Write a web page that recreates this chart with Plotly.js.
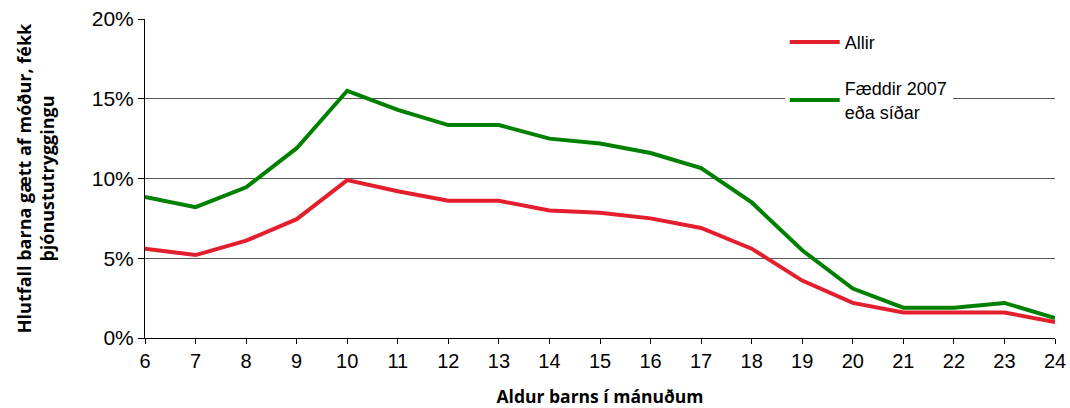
<!DOCTYPE html>
<html>
<head>
<meta charset="utf-8">
<script src="https://cdn.plot.ly/plotly-3.0.1.min.js"></script>
<style>html,body{margin:0;padding:0;background:#fff;}#chart{width:1070px;height:408px;}</style>
</head>
<body>
<div id="chart"></div>
<script>
var months = [6,7,8,9,10,11,12,13,14,15,16,17,18,19,20,21,22,23,24];
var allir = [5.6,5.2,6.1,7.45,9.9,9.2,8.6,8.6,8.0,7.85,7.5,6.9,5.6,3.6,2.2,1.6,1.6,1.6,1.0];
var faeddir = [8.85,8.2,9.45,11.9,15.5,14.3,13.35,13.35,12.5,12.2,11.6,10.65,8.5,5.5,3.1,1.9,1.9,2.2,1.25];
var seriesNames = ['Allir', 'Fæddir 2007<br>eða síðar'];
var yTickVals = [0,5,10,15,20];
var yTickText = ['0%','5%','10%','15%','20%'];

var traces = [
  {x: months, y: allir, name: seriesNames[0], type: 'scatter', mode: 'lines',
   line: {color: '#E31E2D', width: 4}, legendgroup: 'a'},
  {x: months, y: faeddir, name: seriesNames[1], type: 'scatter', mode: 'lines',
   line: {color: '#008000', width: 4}, legendgroup: 'b'}
];

var layout = {
  width: 1070, height: 408,
  margin: {l: 145, r: 15, t: 19, b: 70},
  paper_bgcolor: '#fff', plot_bgcolor: '#fff',
  font: {family: '"Liberation Sans", Arial, sans-serif', size: 18, color: '#000'},
  xaxis: {
    range: [6, 24], tickvals: months, ticks: 'outside', ticklen: 5, tickcolor: '#000',
    showline: true, linecolor: '#000', linewidth: 1, showgrid: false, zeroline: false,
    tickfont: {family: '"Liberation Sans", Arial', size: 20},
    title: {text: 'Aldur barns í mánuðum', font: {family: '"Open Sans", sans-serif', size: 17.5, weight: 'bold'}, standoff: 20}
  },
  yaxis: {
    range: [0, 20], tickvals: yTickVals, ticktext: yTickText, ticks: 'outside', ticklen: 6, tickcolor: '#000',
    showline: true, linecolor: '#000', linewidth: 1, showgrid: true, gridcolor: '#555', gridwidth: 1,
    zeroline: false, tickfont: {size: 21},
    title: {text: 'Hlutfall barna gætt af móður, fékk<br>þjónustutryggingu', font: {family: '"Open Sans", sans-serif', size: 18, weight: 'bold'}, standoff: 32}
  },
  legend: {
    x: 0.703, xanchor: 'left', y: 0.985, yanchor: 'top',
    bgcolor: '#fff', borderwidth: 0, font: {size: 18},
    traceorder: 'grouped', tracegroupgap: 20, itemwidth: 50
  },
  showlegend: true
};

Plotly.newPlot('chart', traces, layout, {displayModeBar: false, staticPlot: true});
</script>
</body>
</html>
